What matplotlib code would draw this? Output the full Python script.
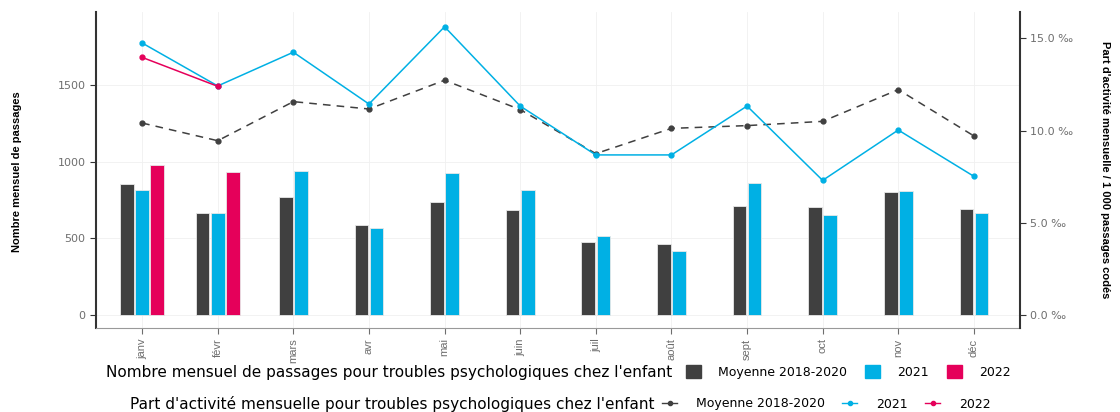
import numpy as np
import matplotlib
matplotlib.use('Agg')
import matplotlib.pyplot as plt
from matplotlib.patches import Patch
from matplotlib.lines import Line2D

plt.rcParams['font.family'] = ['Liberation Sans', 'DejaVu Sans']

# data
mois = ['janv', 'févr', 'mars', 'avr', 'mai', 'juin', 'juil', 'août', 'sept', 'oct', 'nov', 'déc']
series = ['Moyenne 2018-2020', '2021', '2022']
passages_moy = [856, 667, 768, 585, 735, 687, 476, 461, 711, 704, 804, 691]
passages_2021 = [813, 663, 937, 565, 928, 817, 517, 420, 861, 652, 809, 663]
passages_2022 = [978, 933, np.nan, np.nan, np.nan, np.nan, np.nan, np.nan, np.nan, np.nan, np.nan, np.nan]
part_moy = [10.41, 9.45, 11.57, 11.17, 12.73, 11.14, 8.75, 10.12, 10.27, 10.50, 12.22, 9.71]
part_2021 = [14.75, 12.42, 14.25, 11.44, 15.63, 11.33, 8.68, 8.68, 11.33, 7.30, 10.03, 7.52]
part_2022 = [13.97, 12.40, np.nan, np.nan, np.nan, np.nan, np.nan, np.nan, np.nan, np.nan, np.nan, np.nan]

couleurs = ['#404040', '#00B0E4', '#E5005A']
grey = '#6e6e6e'
wide = ['DejaVu Sans']

fig = plt.figure(figsize=(11.2, 4.12), dpi=100)
ax = fig.add_axes([96/1120, 1-328/412, (1020-96)/1120, (328-12)/412])
ax2 = ax.twinx()

# barres groupees (2 ou 3 selon les donnees dispo)
x = np.arange(len(mois))
bars = np.array([passages_moy, passages_2021, passages_2022], dtype=float)
n_bars = (~np.isnan(bars)).sum(axis=0)
w = 0.18
for i in range(3):
    for j in range(len(mois)):
        v = bars[i, j]
        if np.isnan(v):
            continue
        off = (i - (n_bars[j]-1)/2) * 0.2
        ax.bar(x[j]+off, v, width=w, color=couleurs[i], edgecolor='#e8e8e8', linewidth=0.6, zorder=2)

# courbes (axe droit)
ax2.plot(x, part_moy, color=couleurs[0], ls=(0, (5, 4)), lw=1.1, marker='o', ms=3.5, zorder=3)
ax2.plot(x, part_2021, color=couleurs[1], lw=1.1, marker='o', ms=3.5, zorder=3)
ax2.plot(x, part_2022, color=couleurs[2], lw=1.1, marker='o', ms=3.5, zorder=3)

ax.set_xlim(-0.61, 11.61)
ax.set_ylim(-85, 1977)
ax2.set_ylim(-0.705, 16.43)
ax.set_yticks([0, 500, 1000, 1500])
ax2.set_yticks([0, 5, 10, 15])
ax2.set_yticklabels(['%.1f \u2030' % v for v in [0, 5, 10, 15]], family=wide)
ax.set_xticks(x)
ax.set_xticklabels(mois, rotation=90, fontsize=9)

ax.grid(True, color='#f0f0f0', lw=0.6, zorder=0)
ax.set_axisbelow(True)
for a in (ax, ax2):
    a.spines['top'].set_visible(False)
    a.tick_params(colors=grey, labelsize=8, length=4, width=0.8, labelcolor=grey)
ax.spines['left'].set_color('#333333')
ax.spines['left'].set_linewidth(1.5)
ax2.spines['right'].set_color('#333333')
ax2.spines['right'].set_linewidth(1.5)
ax2.spines['left'].set_visible(False)
ax.spines['right'].set_visible(False)
ax.spines['bottom'].set_color('#999999')
ax2.spines['bottom'].set_visible(False)
ax.tick_params(axis='y', colors='#333333', labelcolor=grey)
ax2.tick_params(axis='y', colors='#333333', labelcolor=grey)
for t in ax.get_yticklabels():
    t.set_family(wide)

fig.text(17/1120, 1-172/412, 'Nombre mensuel de passages', rotation=90, ha='center', va='center',
         fontsize=8, fontweight='bold')
fig.text(1105/1120, 1-170/412, "Part d'activité mensuelle / 1 000 passages codés", rotation=-90,
         ha='center', va='center', fontsize=8, fontweight='bold')

# legendes
fs = 11
fig.text(672/1120, 1-372/412, "Nombre mensuel de passages pour troubles psychologiques chez l'enfant",
         ha='right', va='center', fontsize=fs, family=wide)
h1 = [Patch(color=c) for c in couleurs]
fig.legend(h1, series, loc='center left', bbox_to_anchor=(686/1120, 1-372/412), ncol=3, frameon=False,
           prop={'family': wide, 'size': 9}, handlelength=1.2, handleheight=1.2, handletextpad=1.4,
           columnspacing=1.4, borderaxespad=0, borderpad=0)
fig.text(655/1120, 1-404/412, "Part d'activité mensuelle pour troubles psychologiques chez l'enfant",
         ha='right', va='center', fontsize=fs, family=wide)
h2 = [Line2D([], [], color=c, marker='o', ms=3, lw=1) for c in couleurs]
fig.legend(h2, series, loc='center left', bbox_to_anchor=(662/1120, 1-404/412), ncol=3, frameon=False,
           prop={'family': wide, 'size': 9}, handlelength=1.2, handletextpad=1.5, columnspacing=1.4,
           borderaxespad=0, borderpad=0)

fig.savefig('out.png', dpi=100)
